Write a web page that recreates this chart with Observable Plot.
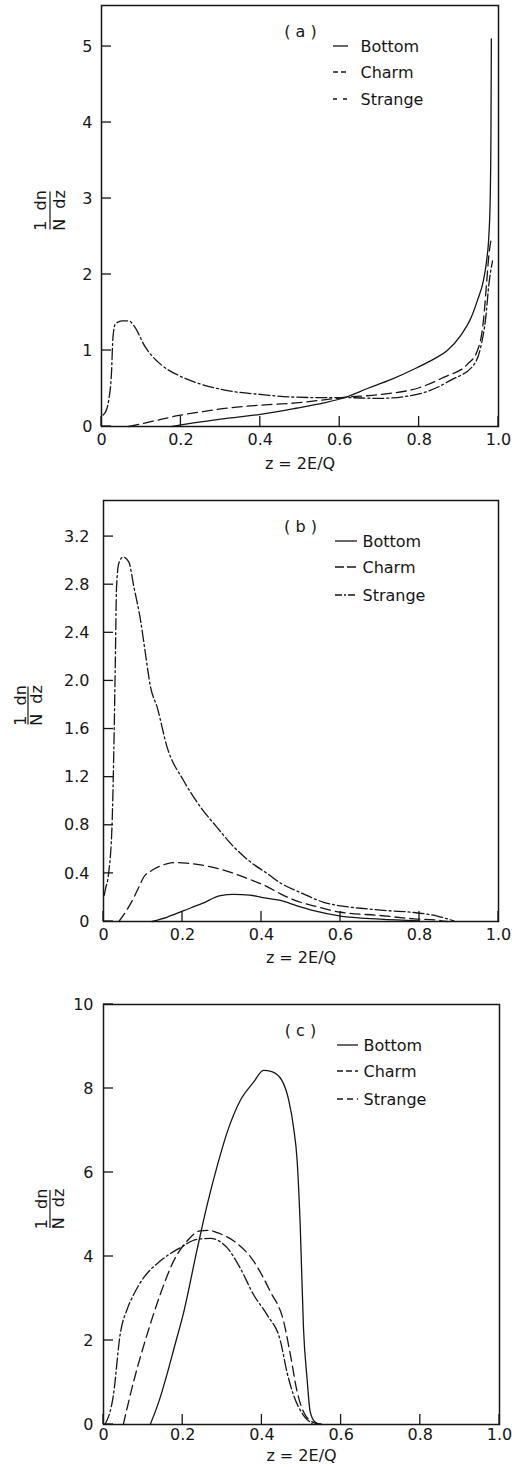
<!DOCTYPE html>
<html><head><meta charset="utf-8">
<script src="https://cdn.jsdelivr.net/npm/d3@7"></script>
<script src="https://cdn.jsdelivr.net/npm/@observablehq/plot@0.6"></script>
<style>
html,body{margin:0;padding:0;background:#fff;}
#chart{width:512px;}
#chart svg{display:block;}
</style></head><body><div id="chart"></div>
<script>
// ---------- data ----------
const xTicks = [0, 0.2, 0.4, 0.6, 0.8, 1.0];
const seriesNames = ["Bottom", "Charm", "Strange"];

// panel (a)
const aYTicks = [0, 1, 2, 3, 4, 5];
const aBottomZ = [0.178, 0.25, 0.32, 0.40, 0.49, 0.56, 0.615, 0.67, 0.73, 0.793, 0.838, 0.871, 0.905, 0.930, 0.947, 0.962, 0.970, 0.976, 0.979, 0.981, 0.982];
const aBottomY = [0, 0.06, 0.11, 0.16, 0.24, 0.31, 0.385, 0.50, 0.62, 0.77, 0.89, 1.0, 1.20, 1.42, 1.66, 1.92, 2.18, 2.54, 2.97, 3.85, 5.10];
const aCharmZ = [0.069, 0.13, 0.195, 0.26, 0.321, 0.40, 0.489, 0.56, 0.615, 0.70, 0.80, 0.863, 0.922, 0.947, 0.962, 0.970, 0.976, 0.981];
const aCharmY = [0, 0.07, 0.145, 0.20, 0.245, 0.28, 0.31, 0.35, 0.385, 0.42, 0.51, 0.65, 0.82, 1.0, 1.39, 1.88, 2.27, 2.45];
const aStrangeZ = [0.004, 0.010, 0.018, 0.025, 0.029, 0.035, 0.052, 0.069, 0.081, 0.111, 0.153, 0.195, 0.237, 0.321, 0.405, 0.472, 0.55, 0.615, 0.70, 0.80, 0.88, 0.939, 0.955, 0.968, 0.976, 0.985];
const aStrangeY = [0.15, 0.19, 0.34, 0.69, 1.18, 1.35, 1.39, 1.39, 1.33, 1.04, 0.80, 0.67, 0.58, 0.47, 0.42, 0.39, 0.38, 0.38, 0.37, 0.43, 0.61, 0.82, 1.04, 1.44, 1.88, 2.18];

// panel (b)
const bYTicks = [0, 0.4, 0.8, 1.2, 1.6, 2.0, 2.4, 2.8, 3.2];
const bBottomZ = [0.123, 0.16, 0.203, 0.25, 0.296, 0.33, 0.37, 0.40, 0.448, 0.49, 0.532, 0.60, 0.70, 0.80];
const bBottomY = [0, 0.035, 0.09, 0.15, 0.215, 0.225, 0.22, 0.20, 0.175, 0.13, 0.09, 0.045, 0.02, 0.005];
const bCharmZ = [0.039, 0.06, 0.077, 0.09, 0.102, 0.12, 0.136, 0.16, 0.178, 0.21, 0.246, 0.29, 0.33, 0.37, 0.414, 0.448, 0.499, 0.532, 0.60, 0.70, 0.786, 0.853, 0.87];
const bCharmY = [0, 0.10, 0.20, 0.29, 0.37, 0.42, 0.45, 0.48, 0.49, 0.485, 0.47, 0.44, 0.40, 0.35, 0.29, 0.23, 0.16, 0.13, 0.077, 0.05, 0.022, 0.008, 0];
const bStrangeZ = [0.002, 0.005, 0.013, 0.022, 0.026, 0.030, 0.033, 0.039, 0.050, 0.064, 0.077, 0.094, 0.106, 0.119, 0.136, 0.161, 0.203, 0.246, 0.288, 0.33, 0.37, 0.414, 0.448, 0.499, 0.557, 0.60, 0.651, 0.72, 0.786, 0.845, 0.887];
const bStrangeY = [0.22, 0.27, 0.40, 0.84, 1.40, 2.17, 2.78, 2.98, 3.03, 2.99, 2.78, 2.50, 2.23, 1.95, 1.78, 1.45, 1.17, 0.95, 0.78, 0.62, 0.50, 0.40, 0.32, 0.24, 0.16, 0.13, 0.11, 0.09, 0.075, 0.045, 0.005];

// panel (c)
const cYTicks = [0, 2, 4, 6, 8, 10];
const cBottomZ = [0.118, 0.14, 0.16, 0.18, 0.202, 0.236, 0.261, 0.287, 0.312, 0.345, 0.379, 0.404, 0.425, 0.45, 0.468, 0.48, 0.489, 0.497, 0.505, 0.514, 0.522, 0.535, 0.55];
const cBottomY = [0, 0.55, 1.18, 1.88, 2.65, 4.15, 5.20, 6.15, 6.95, 7.71, 8.15, 8.43, 8.40, 8.2, 7.71, 7.07, 6.28, 4.68, 2.29, 1.10, 0.30, 0.05, 0];
const cCharmZ = [0.05, 0.076, 0.11, 0.143, 0.177, 0.211, 0.244, 0.265, 0.30, 0.329, 0.379, 0.421, 0.455, 0.472, 0.489, 0.51, 0.539, 0.56];
const cCharmY = [0, 1.02, 2.14, 3.09, 3.89, 4.37, 4.61, 4.62, 4.52, 4.37, 3.89, 3.17, 2.45, 1.66, 0.78, 0.22, 0.02, 0];
const cStrangeZ = [0.004, 0.025, 0.042, 0.06, 0.076, 0.101, 0.143, 0.194, 0.236, 0.27, 0.312, 0.345, 0.379, 0.413, 0.447, 0.463, 0.48, 0.505, 0.527];
const cStrangeY = [0, 0.70, 2.14, 2.75, 3.09, 3.49, 3.89, 4.21, 4.41, 4.43, 4.21, 3.73, 3.09, 2.61, 1.98, 1.26, 0.70, 0.22, 0.02];

// ---------- drawing ----------
const FONT = "DejaVu Sans";
const INK = "#161616";
const DASH = {Bottom: null, Charm: "10,5", Strange: "11,3,2,3"};

function rows(name, zs, ys) { return zs.map((z, i) => ({name, z, v: ys[i]})); }

function panel(cfg) {
  const {height, mt, mb, ml, mr, yDomain, yTicks, yFmt, yPad, xPad, series, tag, leg, ylab, xTitleDy} = cfg;
  const deco = (index, scales, values, dim) => {
    const g = d3.create("svg:g").attr("fill", "none").attr("stroke", INK).attr("stroke-width", 1.3);
    const left = dim.marginLeft, top = dim.marginTop, bottom = dim.height - dim.marginBottom;
    for (const t of xTicks) g.append("line").attr("x1", scales.x(t)).attr("x2", scales.x(t)).attr("y1", bottom).attr("y2", bottom - 10);
    for (const t of yTicks) g.append("line").attr("x1", left).attr("x2", left + 10).attr("y1", scales.y(t)).attr("y2", scales.y(t));
    // legend samples
    leg.rows.forEach((r, i) => {
      g.append("line").attr("x1", leg.x0).attr("x2", leg.x0 + leg.len)
        .attr("y1", top + leg.dy[i]).attr("y2", top + leg.dy[i])
        .attr("stroke-dasharray", r);
    });
    // rotated y label: 1/N dn/dz
    const cy = (top + bottom) / 2 - 5;
    g.append("line").attr("x1", left + ylab.bar).attr("x2", left + ylab.bar).attr("y1", cy - 19).attr("y2", cy + 19).attr("stroke-width", 1.2);
    const lab = g.append("g").attr("stroke", "none").attr("fill", INK)
      .attr("font-family", FONT).attr("font-size", 16).attr("text-anchor", "middle");
    lab.append("text").attr("transform", `translate(${left + ylab.num},${cy}) rotate(-90)`).attr("dy", "0.35em")
      .style("white-space", "pre").text("1  dn");
    lab.append("text").attr("transform", `translate(${left + ylab.den},${cy}) rotate(-90)`).attr("dy", "0.35em")
      .style("white-space", "pre").text("N  dz");
    return g.node();
  };
  const left = ml;
  const marks = [
    Plot.frame({stroke: INK, strokeWidth: 1.5}),
    Plot.axisX(xTicks, {tickSize: 0, tickPadding: xPad, tickFormat: d => d === 0 ? "0" : d.toFixed(1), fontSize: 16, label: null}),
    Plot.axisY(yTicks, {tickSize: 0, tickPadding: yPad, tickFormat: yFmt, fontSize: 16, label: null}),
    ...series.map(s => Plot.line(rows(s.name, s.z, s.y), {x: "z", y: "v", stroke: INK, strokeWidth: 1.3, strokeDasharray: DASH[s.name], curve: "monotone-x"})),
    deco,
    Plot.text([tag], {frameAnchor: "top-left", dx: 300 - left, dy: 20, text: d => d, textAnchor: "middle", fontSize: 16, fill: INK}),
    ...seriesNames.map((n, i) => Plot.text([n], {frameAnchor: "top-left", dx: leg.tx - left, dy: leg.dy[i], text: d => d, textAnchor: "start", lineAnchor: "middle", fontSize: 16, fill: INK})),
    Plot.text(["z = 2E/Q"], {frameAnchor: "bottom", dy: xTitleDy, text: d => d, textAnchor: "middle", lineAnchor: "middle", fontSize: 16, fill: INK})
  ];
  return Plot.plot({
    width: 512, height,
    marginTop: mt, marginBottom: mb, marginLeft: ml, marginRight: mr,
    x: {domain: [0, 1]},
    y: {domain: yDomain},
    style: {fontFamily: FONT, fontSize: "16px", background: "#fff", color: INK},
    marks
  });
}

const fmtInt = d => String(d);
const fmt1 = d => d === 0 ? "0" : d.toFixed(1);

const chart = document.getElementById("chart");
chart.append(panel({
  height: 476, mt: 5, mb: 50, ml: 101, mr: 14,
  yDomain: [0, 5.54], yTicks: aYTicks, yFmt: fmtInt, yPad: 9, xPad: 7, xTitleDy: 37,
  series: [{name: "Bottom", z: aBottomZ, y: aBottomY}, {name: "Charm", z: aCharmZ, y: aCharmY}, {name: "Strange", z: aStrangeZ, y: aStrangeY}],
  tag: "( a )",
  leg: {x0: 333, len: 15, tx: 360, dy: [41, 67, 94], rows: [null, "5,3", "4,6"]},
  ylab: {num: -61, bar: -51, den: -42}
}));
chart.append(panel({
  height: 494, mt: 24, mb: 49, ml: 103, mr: 14,
  yDomain: [0, 3.5], yTicks: bYTicks, yFmt: fmt1, yPad: 14, xPad: 7, xTitleDy: 36,
  series: [{name: "Bottom", z: bBottomZ, y: bBottomY}, {name: "Charm", z: bCharmZ, y: bCharmY}, {name: "Strange", z: bStrangeZ, y: bStrangeY}],
  tag: "( b )",
  leg: {x0: 335, len: 22, tx: 362, dy: [41, 67, 95], rows: [null, "9,3", "7,2,2,2"]},
  ylab: {num: -83, bar: -75, den: -67}
}));
chart.append(panel({
  height: 497, mt: 34, mb: 43, ml: 103, mr: 13,
  yDomain: [0, 10], yTicks: cYTicks, yFmt: fmtInt, yPad: 10, xPad: 4, xTitleDy: 31,
  series: [{name: "Bottom", z: cBottomZ, y: cBottomY}, {name: "Charm", z: cCharmZ, y: cCharmY}, {name: "Strange", z: cStrangeZ, y: cStrangeY}],
  tag: "( c )",
  leg: {x0: 337, len: 21, tx: 363, dy: [41, 67, 95], rows: [null, "6,3", "6,4"]},
  ylab: {num: -62, bar: -53, den: -45}
}));
</script>
</body></html>
